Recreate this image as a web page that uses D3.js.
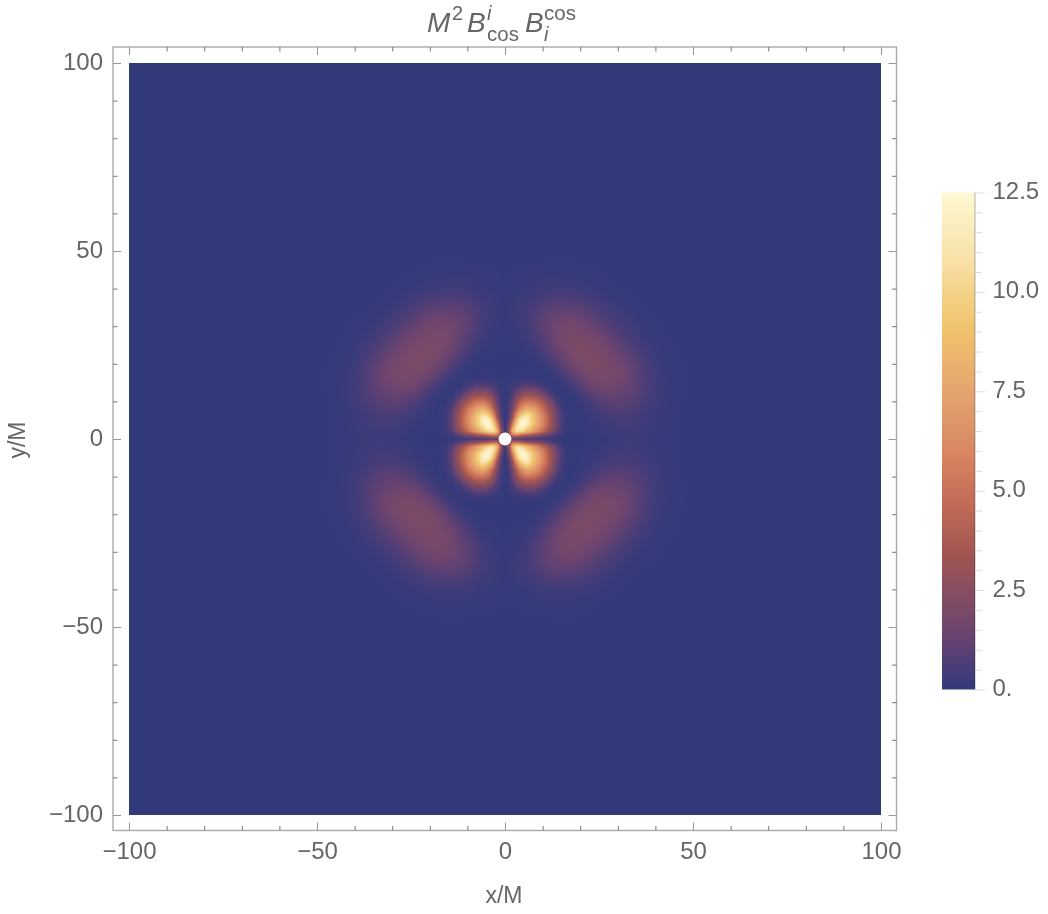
<!DOCTYPE html>
<html>
<head>
<meta charset="utf-8">
<script src="https://cdn.jsdelivr.net/npm/d3@7"></script>
<style>
body { margin: 0; background: #fff; }
#wrap { position: relative; width: 1048px; height: 914px; overflow: hidden; }
#field { position: absolute; }
svg { position: absolute; left: 0; top: 0; }
text { font-family: "Liberation Sans", Arial, sans-serif; fill: #666; }
</style>
</head>
<body>
<div id="wrap">
<canvas id="field"></canvas>
<svg id="chart" width="1048" height="914"></svg>
</div>
<script>
// tick labels
var majorTicks = [-100, -50, 0, 50, 100];
var minorTicks = d3.range(-100, 101, 10).filter(function (d) { return d % 50 != 0; });
var legendMajor = [0, 2.5, 5, 7.5, 10, 12.5];
var legendLabels = ["0.", "2.5", "5.0", "7.5", "10.0", "12.5"];
var legendMinor = d3.range(0, 12.6, 0.5).filter(function (d) { return d % 2.5 != 0; });

// colour bar
var colorValues = [0, 0.5, 1, 1.5, 2.5, 3.5, 5, 6, 7.5, 9, 10, 11, 12.5];
var colorStops = ["#333a7a", "#463c78", "#5b4074", "#6e456e", "#874e60", "#a55650", "#c87259", "#d98762", "#e5a56f", "#f0c26c", "#f5d288", "#f9e4ae", "#fff8d2"];

// inner lobes, one quadrant: value at |x| (columns), |y| (rows)
var innerNodes = [0, 1, 2, 3, 4, 5, 6, 8, 10, 12, 14, 16, 18];
var innerValues = [
    [0, 0.4, 0.6, 0.6, 0.6, 0.5, 0.5, 0.4, 0.3, 0.2, 0.1, 0, 0],
    [0, 2.5, 5, 5.2, 4.6, 4, 3.5, 2.8, 2, 1, 0.3, 0, 0],
    [0, 2.5, 8, 10.5, 10.5, 9.5, 8.5, 6.5, 4.5, 2.5, 1, 0.1, 0],
    [0, 2, 7, 11, 12, 11.5, 10, 7.5, 5.5, 3.2, 1.2, 0.2, 0],
    [0, 1.5, 5.5, 9.5, 12, 12.5, 11.5, 8.5, 6, 3.5, 1.3, 0.2, 0],
    [0, 0.8, 4, 8.5, 11.5, 12.3, 11.5, 8.5, 6, 3.5, 1.2, 0.2, 0],
    [0, 0.7, 3, 6.5, 9.5, 11, 11.3, 8.5, 6, 3.5, 1.2, 0.2, 0],
    [0, 0.5, 1.8, 4, 6, 7.2, 8, 7, 5, 2.8, 0.9, 0.1, 0],
    [0, 0.3, 1.2, 2.6, 4, 4.8, 5.2, 4.8, 3.4, 1.7, 0.4, 0, 0],
    [0, 0.2, 0.7, 1.4, 2, 2.5, 2.7, 2.5, 1.6, 0.6, 0.1, 0, 0],
    [0, 0.1, 0.3, 0.5, 0.7, 0.9, 1, 0.9, 0.4, 0.1, 0, 0, 0],
    [0, 0, 0.05, 0.1, 0.1, 0.1, 0.15, 0.1, 0, 0, 0, 0, 0],
    [0, 0, 0, 0, 0, 0, 0, 0, 0, 0, 0, 0, 0]
];

// outer lobes: value at radius (columns), angle from the x axis (rows)
var outerRadii = [18, 20, 22, 24, 26, 28, 30, 32, 34, 36, 38, 40, 42, 44, 46, 48, 52];
var outerAngles = [0, 10, 20, 30, 40, 50, 60, 70, 80, 90];
var outerValues = [
    [0, 0, 0, 0.05, 0.1, 0.15, 0.2, 0.25, 0.25, 0.2, 0.15, 0.1, 0.1, 0.05, 0, 0, 0],
    [0, 0, 0.05, 0.15, 0.25, 0.35, 0.45, 0.5, 0.5, 0.45, 0.35, 0.25, 0.15, 0.1, 0.05, 0, 0],
    [0, 0, 0.1, 0.3, 0.6, 0.85, 1.05, 1.15, 1.15, 1.05, 0.85, 0.65, 0.4, 0.25, 0.1, 0.05, 0],
    [0, 0, 0.2, 0.6, 1.1, 1.5, 1.75, 1.85, 1.8, 1.6, 1.3, 1, 0.7, 0.4, 0.2, 0.1, 0],
    [0, 0.05, 0.3, 0.8, 1.35, 1.8, 2.05, 2.05, 1.9, 1.65, 1.3, 0.95, 0.65, 0.4, 0.2, 0.1, 0],
    [0, 0.05, 0.3, 0.8, 1.35, 1.8, 2.05, 2.05, 1.9, 1.65, 1.3, 0.95, 0.65, 0.4, 0.2, 0.1, 0],
    [0, 0, 0.2, 0.55, 1, 1.4, 1.7, 1.85, 1.8, 1.6, 1.3, 1, 0.7, 0.4, 0.2, 0.1, 0],
    [0, 0, 0.05, 0.2, 0.5, 0.75, 1, 1.15, 1.2, 1.1, 0.9, 0.65, 0.4, 0.25, 0.1, 0.05, 0],
    [0, 0, 0, 0.05, 0.1, 0.2, 0.3, 0.4, 0.45, 0.4, 0.3, 0.2, 0.15, 0.1, 0.05, 0, 0],
    [0, 0, 0, 0, 0, 0, 0.02, 0.05, 0.05, 0.05, 0.05, 0.02, 0, 0, 0, 0, 0]
];
var holeRadius = 1.7;

var frame = { left: 113, top: 47, right: 896.5, bottom: 830.5 };
var xScale = d3.scaleLinear().domain([-100, 100]).range([129, 881]);
var yScale = d3.scaleLinear().domain([-100, 100]).range([815, 63]);
var legendScale = d3.scaleLinear().domain([0, 12.5]).range([689.5, 192.5]);
var colorScale = d3.scaleLinear().domain(colorValues).range(colorStops).clamp(true);

function lookup(cols, rows, table, c, r) {
    if (c > cols[cols.length - 1] || r > rows[rows.length - 1]) return 0;
    var i = Math.min(d3.bisectRight(cols, c) - 1, cols.length - 2);
    var j = Math.min(d3.bisectRight(rows, r) - 1, rows.length - 2);
    var tc = (c - cols[i]) / (cols[i + 1] - cols[i]);
    var tr = (r - rows[j]) / (rows[j + 1] - rows[j]);
    var low = table[j][i] * (1 - tc) + table[j][i + 1] * tc;
    var high = table[j + 1][i] * (1 - tc) + table[j + 1][i + 1] * tc;
    return low * (1 - tr) + high * tr;
}

function fieldValue(x, y) {
    var ax = Math.abs(x), ay = Math.abs(y);
    var radius = Math.sqrt(ax * ax + ay * ay);
    var angle = Math.atan2(ay, ax) * 180 / Math.PI;
    var v = lookup(innerNodes, innerNodes, innerValues, ax, ay);
    if (radius >= outerRadii[0]) v += lookup(outerRadii, outerAngles, outerValues, radius, angle);
    return v;
}

// the field itself, pixel by pixel
var canvas = document.getElementById("field");
var cw = xScale(100) - xScale(-100), ch = yScale(-100) - yScale(100);
canvas.width = cw;
canvas.height = ch;
canvas.style.left = xScale(-100) + "px";
canvas.style.top = yScale(100) + "px";
var ctx = canvas.getContext("2d");
var image = ctx.createImageData(cw, ch);
for (var py = 0; py < ch; py++) {
    var dy = yScale.invert(yScale(100) + py + 0.5);
    for (var px = 0; px < cw; px++) {
        var dx = xScale.invert(xScale(-100) + px + 0.5);
        var col = d3.rgb(colorScale(fieldValue(dx, dy)));
        var k = (py * cw + px) * 4;
        image.data[k] = col.r;
        image.data[k + 1] = col.g;
        image.data[k + 2] = col.b;
        image.data[k + 3] = 255;
    }
}
ctx.putImageData(image, 0, 0);

var svg = d3.select("#chart");

svg.append("circle")
    .attr("cx", xScale(0))
    .attr("cy", yScale(0))
    .attr("r", xScale(holeRadius) - xScale(0))
    .attr("fill", "#fff");

svg.append("rect")
    .attr("x", frame.left)
    .attr("y", frame.top)
    .attr("width", frame.right - frame.left)
    .attr("height", frame.bottom - frame.top)
    .attr("fill", "none")
    .attr("stroke", "#aaa")
    .attr("stroke-width", 1.4);

function drawAxis(maker, scale, transform, labelled, padding) {
    var fmt = labelled ? d3.format("") : "";
    var g = svg.append("g").attr("transform", transform);
    g.call(maker(scale).tickValues(majorTicks).tickSizeInner(-8).tickSizeOuter(0).tickPadding(padding).tickFormat(fmt));
    g.call(function (s) { s.select(".domain").remove(); });
    g.selectAll("text").attr("font-size", 24).style("font-family", "'Liberation Sans', Arial, sans-serif").attr("fill", "#666");
    g.selectAll("line").attr("stroke", "#999");
    var m = svg.append("g").attr("transform", transform);
    m.call(maker(scale).tickValues(minorTicks).tickSizeInner(-4.5).tickSizeOuter(0).tickFormat(""));
    m.call(function (s) { s.select(".domain").remove(); });
    m.selectAll("line").attr("stroke", "#777");
    return g;
}

drawAxis(d3.axisBottom, xScale, "translate(0," + frame.bottom + ")", true, 11.5);
drawAxis(d3.axisTop, xScale, "translate(0," + frame.top + ")", false, 3);
var leftAxis = drawAxis(d3.axisLeft, yScale, "translate(" + frame.left + ",0)", true, 10);
leftAxis.selectAll("text").attr("dy", "0.27em");
drawAxis(d3.axisRight, yScale, "translate(" + frame.right + ",0)", false, 3);

svg.append("text")
    .attr("x", 504)
    .attr("y", 903)
    .attr("text-anchor", "middle")
    .attr("font-size", 23)
    .text("x/M");

svg.append("text")
    .attr("transform", "translate(25,440)rotate(-90)")
    .attr("text-anchor", "middle")
    .attr("font-size", 23)
    .text("y/M");

// title, placed part by part like the typeset original
var title = svg.append("text").attr("font-size", 28);
var titleParts = [
    { t: "M", x: 427, y: 32, s: 28, i: true },
    { t: "2", x: 452, y: 20, s: 20, i: false },
    { t: "B", x: 467, y: 32, s: 28, i: true },
    { t: "i", x: 487, y: 20, s: 20, i: true },
    { t: "cos", x: 487, y: 41, s: 20.5, i: false },
    { t: "B", x: 525, y: 32, s: 28, i: true },
    { t: "cos", x: 544, y: 20, s: 20.5, i: false },
    { t: "i", x: 544, y: 41, s: 20, i: true }
];
title.selectAll("tspan").data(titleParts).enter().append("tspan")
    .attr("x", function (d) { return d.x; })
    .attr("y", function (d) { return d.y; })
    .attr("font-size", function (d) { return d.s; })
    .attr("font-style", function (d) { return d.i ? "italic" : "normal"; })
    .text(function (d) { return d.t; });

// legend bar
var grad = svg.append("defs").append("linearGradient")
    .attr("id", "bar")
    .attr("x1", 0).attr("x2", 0).attr("y1", 1).attr("y2", 0);
grad.selectAll("stop").data(colorValues).enter().append("stop")
    .attr("offset", function (d) { return d / 12.5; })
    .attr("stop-color", function (d) { return colorScale(d); });

var barLeft = 942, barRight = 975;
svg.append("rect")
    .attr("x", barLeft)
    .attr("y", legendScale(12.5))
    .attr("width", barRight - barLeft)
    .attr("height", legendScale(0) - legendScale(12.5))
    .attr("fill", "url(#bar)");
svg.append("line")
    .attr("x1", barRight).attr("x2", barRight)
    .attr("y1", legendScale(12.5)).attr("y2", legendScale(0))
    .attr("stroke", "#000").attr("stroke-opacity", 0.3);

var legendMajorAxis = svg.append("g").attr("transform", "translate(" + barRight + ",0)");
legendMajorAxis.call(d3.axisRight(legendScale).tickValues(legendMajor).tickSizeInner(10).tickSizeOuter(0).tickPadding(7.5)
    .tickFormat(function (d, i) { return legendLabels[i]; }));
legendMajorAxis.select(".domain").remove();
legendMajorAxis.selectAll("line").attr("stroke", "#ddd");
legendMajorAxis.selectAll("text").attr("font-size", 24).attr("dy", "0.25em")
    .style("font-family", "'Liberation Sans', Arial, sans-serif").attr("fill", "#666");

var legendMinorAxis = svg.append("g").attr("transform", "translate(" + barRight + ",0)");
legendMinorAxis.call(d3.axisRight(legendScale).tickValues(legendMinor).tickSizeInner(7).tickSizeOuter(0).tickFormat(""));
legendMinorAxis.select(".domain").remove();
legendMinorAxis.selectAll("line").attr("stroke", "#ddd");
</script>
</body>
</html>
